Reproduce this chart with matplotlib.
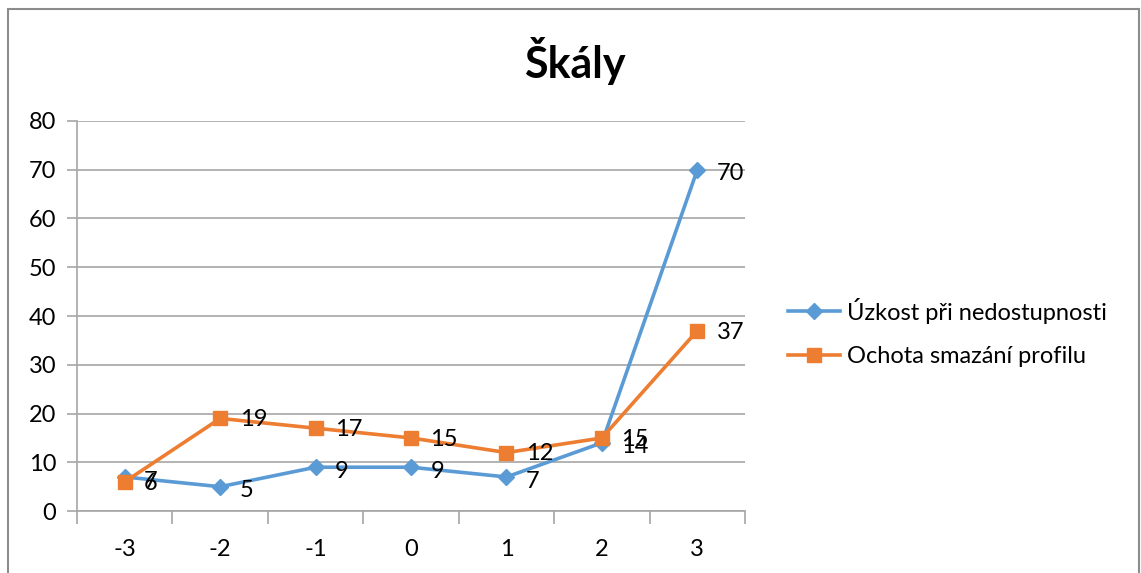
import matplotlib
matplotlib.use("Agg")
import matplotlib.pyplot as plt
from matplotlib.patches import Rectangle

plt.rcParams['font.family'] = ['Lato', 'DejaVu Sans']

# data
categories = ["-3", "-2", "-1", "0", "1", "2", "3"]
uzkost = [7, 5, 9, 9, 7, 14, 70]
ochota = [6, 19, 17, 15, 12, 15, 37]
series_names = ["Úzkost při nedostupnosti", "Ochota smazání profilu"]

blue = "#5B9BD5"
orange = "#ED7D31"
grid_col = "#A6A6A6"

fig = plt.figure(figsize=(11.41, 5.73), dpi=100)
ax = fig.add_axes([0.0675, 0.108, 0.5855, 0.681])

x = list(range(len(categories)))
ax.plot(x, uzkost, color=blue, lw=2.6, marker="D", ms=8, label=series_names[0], zorder=3)
ax.plot(x, ochota, color=orange, lw=2.6, marker="s", ms=10, label=series_names[1], zorder=4)

# data labels to the right of each point
for xi, v in zip(x, uzkost):
    ax.annotate(str(v), (xi, v), xytext=(14, -3), textcoords="offset points",
                ha="left", va="center", fontsize=17, color="black", zorder=5)
for xi, v in zip(x, ochota):
    ax.annotate(str(v), (xi, v), xytext=(14, -1), textcoords="offset points",
                ha="left", va="center", fontsize=17, color="black", zorder=5)

ax.set_xlim(-0.5, len(categories) - 0.5)
ax.set_ylim(0, 80)
ax.set_yticks(range(0, 81, 10))
ax.set_xticks(x)
ax.set_xticklabels(categories)
ax.set_xticks([i - 0.5 for i in range(len(categories) + 1)], minor=True)
ax.tick_params(axis="x", which="major", length=0, pad=20, labelsize=17)
ax.tick_params(axis="x", which="minor", length=9, color=grid_col, width=1.2)
ax.tick_params(axis="y", length=7, color=grid_col, width=1.2, labelsize=17, pad=8)

ax.grid(axis="y", color=grid_col, lw=1.2)
ax.set_axisbelow(True)
for s in ["top", "right"]:
    ax.spines[s].set_visible(False)
for s in ["left", "bottom"]:
    ax.spines[s].set_color(grid_col)
    ax.spines[s].set_linewidth(1.2)

fig.text(0.504, 0.893, "Škály", ha="center", va="center", fontsize=31, fontweight="bold")

fig.legend(loc="center left", bbox_to_anchor=(0.672, 0.42), frameon=False,
           fontsize=17, handlelength=2.2, labelspacing=0.95, handletextpad=0.3)

# outer border of the chart area
fig.patches.append(Rectangle((0.007, -0.05), 0.991, 1.034, transform=fig.transFigure,
                             fill=False, edgecolor="#8C8C8C", lw=1.5))

fig.savefig("out.png", dpi=100)
